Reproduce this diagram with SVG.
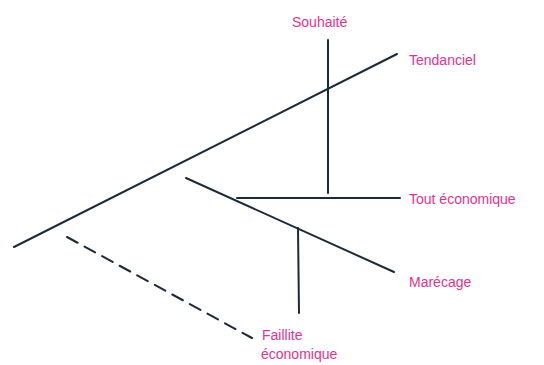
<svg xmlns="http://www.w3.org/2000/svg" width="544" height="365" viewBox="0 0 544 365">
<style>
.ln{stroke:#1c2b38;stroke-width:2;fill:none;stroke-linecap:round}
.ds{stroke-dasharray:12 8}
.lb{font-family:"Liberation Sans",Arial,sans-serif;font-size:14px;fill:#e8318f}
</style>
<rect width="544" height="365" fill="#ffffff"/>
<g id="connectors">
<line class="ln" x1="14" y1="247" x2="397" y2="54"/>
<line class="ln" x1="328" y1="40" x2="328" y2="193"/>
<line class="ln" x1="186" y1="178" x2="394" y2="272"/>
<line class="ln" x1="237" y1="198" x2="400" y2="198"/>
<line class="ln" x1="298" y1="228" x2="299" y2="313"/>
<line class="ln ds" x1="67" y1="237" x2="252" y2="338"/>
</g>
<g id="souhaite"><text class="lb" x="292" y="27">Souhaité</text></g>
<g id="tendanciel"><text class="lb" x="409" y="65">Tendanciel</text></g>
<g id="tout-economique"><text class="lb" x="409" y="204">Tout économique</text></g>
<g id="marecage"><text class="lb" x="409" y="287">Marécage</text></g>
<g id="faillite"><text class="lb" x="262" y="340">Faillite</text><text class="lb" x="261" y="359">économique</text></g>
</svg>
